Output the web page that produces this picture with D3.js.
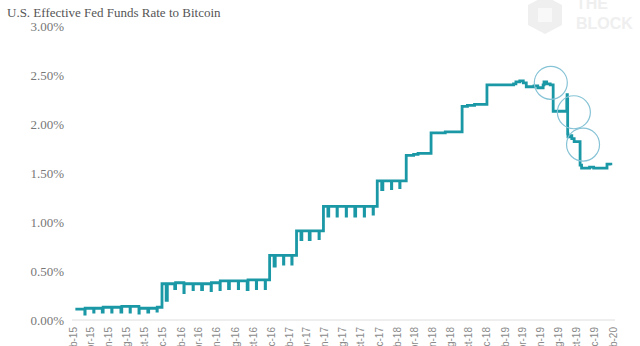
<!DOCTYPE html>
<html><head><meta charset="utf-8">
<script src="https://cdn.jsdelivr.net/npm/d3@7"></script>
<style>html,body{margin:0;padding:0;background:#fff;overflow:hidden}</style>
</head><body>
<svg id="c" width="640" height="346"></svg>
<script>
const subtitle = "U.S. Effective Fed Funds Rate to Bitcoin";
const watermark = ["THE", "BLOCK"];
const yTicks = [0, 0.5, 1.0, 1.5, 2.0, 2.5, 3.0];
const xTickLabels = ["Feb-15","Apr-15","Jun-15","Aug-15","Oct-15","Dec-15","Feb-16","Apr-16","Jun-16","Aug-16","Oct-16","Dec-16","Feb-17","Apr-17","Jun-17","Aug-17","Oct-17","Dec-17","Feb-18","Apr-18","Jun-18","Aug-18","Oct-18","Dec-18","Feb-19","Apr-19","Jun-19","Aug-19","Oct-19","Dec-19","Feb-20"];
// Step series breakpoints (date, effective rate %)
const rateDates = ["2015-02-27","2015-03-31","2015-04-01","2015-04-30","2015-05-01","2015-05-29","2015-06-01","2015-06-30","2015-07-01","2015-07-31","2015-08-03","2015-08-31","2015-09-01","2015-09-30","2015-10-01","2015-10-30","2015-11-02","2015-11-30","2015-12-01","2015-12-17","2015-12-31",
"2016-01-04","2016-01-29","2016-02-01","2016-02-29","2016-03-01","2016-03-31","2016-04-01","2016-04-29","2016-05-02","2016-05-31","2016-06-01","2016-06-30","2016-07-01","2016-07-29","2016-08-01","2016-08-31","2016-09-01","2016-09-30","2016-10-03","2016-10-31","2016-11-01","2016-11-30","2016-12-01","2016-12-15","2016-12-30",
"2017-01-03","2017-01-31","2017-02-01","2017-02-28","2017-03-01","2017-03-16","2017-03-31","2017-04-03","2017-04-28","2017-05-01","2017-05-31","2017-06-01","2017-06-15","2017-06-30","2017-07-03","2017-07-31","2017-08-01","2017-08-31","2017-09-01","2017-09-29","2017-10-02","2017-10-31","2017-11-01","2017-11-30","2017-12-01","2017-12-14","2017-12-29",
"2018-01-02","2018-01-31","2018-02-01","2018-02-28","2018-03-01","2018-03-22","2018-04-16","2018-05-01","2018-06-14","2018-08-01","2018-09-04","2018-09-27","2018-10-15","2018-11-08","2018-12-20",
"2019-03-20","2019-03-28","2019-04-10","2019-04-22","2019-05-02","2019-05-28","2019-06-10","2019-06-28","2019-07-01","2019-07-10","2019-07-22","2019-08-01","2019-09-16","2019-09-17","2019-09-18","2019-09-19","2019-09-20","2019-09-30","2019-10-03","2019-10-11","2019-10-31","2019-11-05","2019-12-02","2019-12-16","2020-01-30","2020-02-12"];
const rateValues = [0.11,0.06,0.12,0.08,0.12,0.08,0.13,0.08,0.13,0.08,0.14,0.08,0.14,0.07,0.12,0.08,0.12,0.09,0.13,0.37,0.20,
0.37,0.32,0.38,0.28,0.37,0.31,0.37,0.31,0.37,0.30,0.38,0.31,0.40,0.32,0.40,0.32,0.40,0.31,0.41,0.32,0.41,0.32,0.41,0.66,0.55,
0.66,0.57,0.66,0.57,0.66,0.91,0.82,0.91,0.82,0.91,0.83,0.91,1.16,1.06,1.16,1.06,1.16,1.06,1.16,1.06,1.16,1.06,1.16,1.08,1.16,1.42,1.33,
1.42,1.34,1.42,1.35,1.42,1.68,1.69,1.70,1.91,1.92,1.92,2.18,2.19,2.20,2.40,
2.41,2.43,2.44,2.42,2.38,2.39,2.37,2.40,2.43,2.41,2.40,2.13,2.25,2.30,2.25,1.90,1.87,1.88,1.85,1.82,1.58,1.55,1.56,1.55,1.59,1.58];
// Highlight circles (date, rate %)
const circleDates = ["2019-07-24","2019-10-10","2019-11-10"];
const circleValues = [2.42, 2.12, 1.79];

const parse = d3.timeParse("%Y-%m-%d");
const parseTick = d3.timeParse("%b-%y");
const svg = d3.select("#c");

const x = d3.scaleTime()
  .domain([parse("2015-02-20"), parse("2020-02-20")])
  .range([73.3, 613.2]);
const y = d3.scaleLinear().domain([0, 3]).range([320, 26]);

// watermark
const wm = svg.append("g").attr("fill", "#efefef");
wm.append("path")
  .attr("d", "M545,-4 L562,5 L562,25 L545,34 L528,25 L528,5 Z");
wm.append("rect").attr("x", 538).attr("y", 8).attr("width", 14).attr("height", 14).attr("fill", "#f8f8f8");
wm.selectAll("text").data(watermark).join("text")
  .attr("x", 576).attr("y", (d, i) => 9 + i * 20)
  .attr("font-family", "Liberation Sans, Arial, sans-serif")
  .attr("font-weight", "bold").attr("font-size", 16)
  .text(d => d);

// subtitle
svg.append("text").attr("x", 7).attr("y", 17)
  .attr("font-family", "Liberation Serif, Times New Roman, serif")
  .attr("font-size", 13).attr("fill", "#555")
  .text(subtitle);

// y axis labels
svg.append("g").selectAll("text").data(yTicks).join("text")
  .attr("x", 64).attr("y", d => y(d)).attr("dy", "0.35em")
  .attr("text-anchor", "end")
  .attr("font-family", "Liberation Serif, Times New Roman, serif")
  .attr("font-size", 13).attr("fill", "#777")
  .text(d => d.toFixed(2) + "%");

// x axis baseline
svg.append("line").attr("x1", 72).attr("x2", 615)
  .attr("y1", y(0)).attr("y2", y(0))
  .attr("stroke", "#dedede").attr("stroke-width", 1);

// x tick labels (rotated)
const tickDates = xTickLabels.map(s => d3.timeDay.offset(parseTick(s), 19));
svg.append("g").selectAll("text").data(xTickLabels).join("text")
  .attr("transform", (d, i) => `translate(${x(tickDates[i])},327) rotate(-90)`)
  .attr("dy", "0.35em").attr("text-anchor", "end")
  .attr("font-family", "Liberation Sans, Arial, sans-serif")
  .attr("font-size", 10).attr("fill", "#8a8a8a")
  .text(d => d);

// line
const data = rateDates.map((d, i) => ({ date: parse(d), v: rateValues[i] }));
svg.append("path").datum(data)
  .attr("fill", "none").attr("stroke", "#1b98a6").attr("stroke-width", 2.8)
  .attr("stroke-linejoin", "miter")
  .attr("d", d3.line().x(d => x(d.date)).y(d => y(d.v)).curve(d3.curveStepAfter));

// circles
svg.append("g").selectAll("circle").data(circleDates).join("circle")
  .attr("cx", d => x(parse(d))).attr("cy", (d, i) => y(circleValues[i]))
  .attr("r", 16.5).attr("fill", "none")
  .attr("stroke", "#86c3d6").attr("stroke-width", 1.2);
</script>
</body></html>
